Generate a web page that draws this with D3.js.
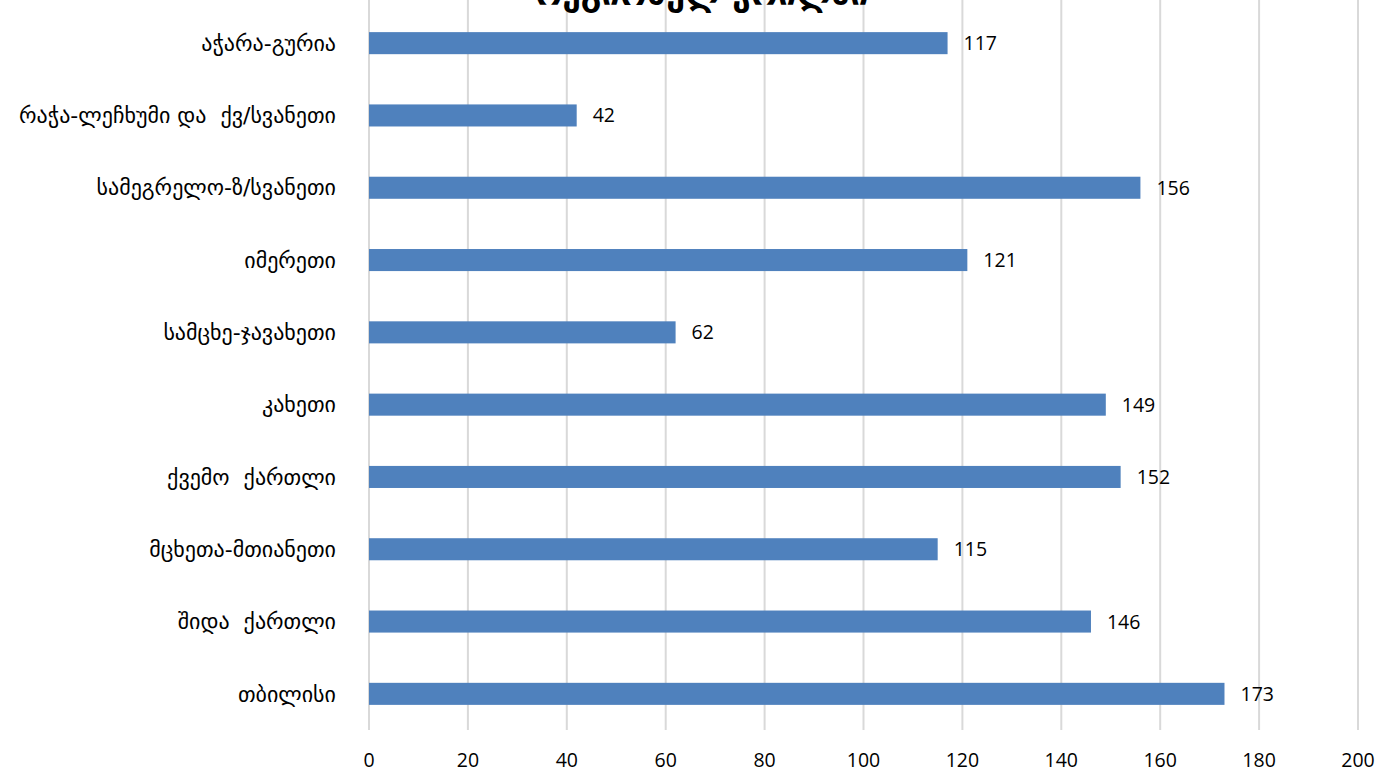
<!DOCTYPE html>
<html><head><meta charset="utf-8">
<script src="https://cdn.jsdelivr.net/npm/d3@7"></script>
<style>body{margin:0;background:#fff;}svg{display:block;}</style>
</head><body>
<svg id="chart" width="1395" height="775"></svg>
<script>
const title = "რეგიონულ ჭრილში";
const categories = ["აჭარა-გურია","რაჭა-ლეჩხუმი და  ქვ/სვანეთი","სამეგრელო-ზ/სვანეთი","იმერეთი","სამცხე-ჯავახეთი","კახეთი","ქვემო  ქართლი","მცხეთა-მთიანეთი","შიდა  ქართლი","თბილისი"];
const values = [117,42,156,121,62,149,152,115,146,173];
const xTicks = [0,20,40,60,80,100,120,140,160,180,200];

(function(){
const svg = d3.select("#chart");
const pLeft = 369, pRight = 1358, pTop = 7, pBottom = 730;
const x = d3.scaleLinear().domain([0,200]).range([pLeft,pRight]);
const y = d3.scaleBand().domain(categories).range([pTop,pBottom]).paddingInner(0.695).paddingOuter(0.3475);
const font = "'Open Sans','DejaVu Sans',sans-serif";

svg.append("g").selectAll("line").data(xTicks).join("line")
  .attr("x1",d=>x(d)).attr("x2",d=>x(d)).attr("y1",0).attr("y2",pBottom)
  .attr("stroke","#d9d9d9").attr("stroke-width",2);

svg.append("g").selectAll("rect").data(values).join("rect")
  .attr("x",x(0)).attr("y",(d,i)=>y(categories[i]))
  .attr("width",d=>x(d)-x(0)).attr("height",y.bandwidth())
  .attr("fill","#4f81bd");

svg.append("g").selectAll("text").data(values).join("text")
  .attr("x",d=>x(d)+16).attr("y",(d,i)=>y(categories[i])+y.bandwidth()/2)
  .attr("dy","0.36em").attr("font-family",font).attr("font-size",19.5).attr("fill","#000")
  .text(d=>d);

svg.append("g").selectAll("text").data(categories).join("text")
  .attr("x",336).attr("y",d=>y(d)+y.bandwidth()/2).attr("dy","0.35em")
  .attr("text-anchor","end").attr("font-family","'DejaVu Sans',sans-serif").attr("font-size",22).attr("fill","#000")
  .style("white-space","pre")
  .text(d=>d);

svg.append("g").selectAll("text").data(xTicks).join("text")
  .attr("x",d=>x(d)).attr("y",760).attr("dy","0.36em").attr("text-anchor","middle")
  .attr("font-family",font).attr("font-size",19.5).attr("fill","#000")
  .text(d=>d);

svg.append("text").attr("x",702).attr("y",5).attr("text-anchor","middle")
  .attr("font-family","'DejaVu Sans',sans-serif").attr("font-size",33).attr("font-weight","bold")
  .attr("fill","#000").text(title);
})();
</script>
</body></html>
